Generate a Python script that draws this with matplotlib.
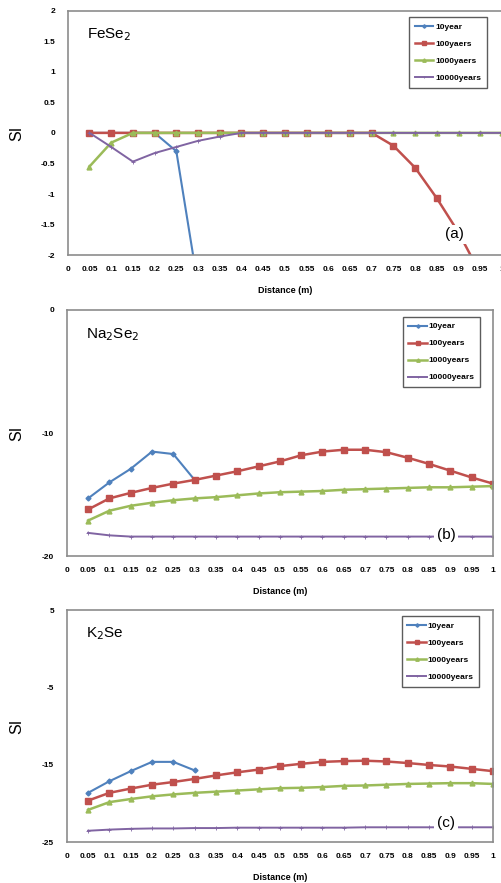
#!/usr/bin/env python3

"""
plot.py - SI vs distance for FeSe2, Na2Se2 and K2Se
"""

import matplotlib
matplotlib.use("Agg")
import matplotlib.pyplot as plt

plt.rcParams['font.family'] = ['Liberation Sans', 'DejaVu Sans']

distance = [0.05, 0.1, 0.15, 0.2, 0.25, 0.3, 0.35, 0.4, 0.45, 0.5,
            0.55, 0.6, 0.65, 0.7, 0.75, 0.8, 0.85, 0.9, 0.95, 1.0]
distance_10yr = [0.05, 0.1, 0.15, 0.2, 0.25, 0.3]

# (a) FeSe2
fese2_10 = [0, 0, 0, 0, -0.3, -2.5]
fese2_100 = [0, 0, 0, 0, 0, 0, 0, 0, 0, 0, 0, 0, 0, 0, -0.21, -0.57, -1.07, -1.63, -2.3, -3.0]
fese2_1000 = [-0.55, -0.16, 0, 0, 0, 0, 0, 0, 0, 0, 0, 0, 0, 0, 0, 0, 0, 0, 0, 0]
fese2_10000 = [0, -0.23, -0.47, -0.33, -0.23, -0.13, -0.06, 0, 0, 0, 0, 0, 0, 0, 0, 0, 0, 0, 0, 0]

# (b) Na2Se2
na2se2_10 = [-15.3, -14.0, -12.9, -11.5, -11.7, -13.8]
na2se2_100 = [-16.2, -15.3, -14.85, -14.45, -14.1, -13.8, -13.45, -13.1, -12.7, -12.3,
              -11.8, -11.5, -11.35, -11.35, -11.55, -12.0, -12.5, -13.05, -13.6, -14.1]
na2se2_1000 = [-17.1, -16.3, -15.9, -15.65, -15.45, -15.3, -15.2, -15.05, -14.9, -14.8,
               -14.75, -14.7, -14.6, -14.55, -14.5, -14.45, -14.4, -14.4, -14.35, -14.3]
na2se2_10000 = [-18.1, -18.3, -18.4, -18.4, -18.4, -18.4, -18.4, -18.4, -18.4, -18.4,
                -18.4, -18.4, -18.4, -18.4, -18.4, -18.4, -18.4, -18.4, -18.4, -18.4]

# (c) K2Se
k2se_10 = [-18.6, -17.1, -15.8, -14.6, -14.6, -15.7]
k2se_100 = [-19.6, -18.6, -18.05, -17.55, -17.2, -16.8, -16.35, -15.95, -15.6, -15.15,
            -14.85, -14.6, -14.5, -14.45, -14.55, -14.75, -15.0, -15.2, -15.5, -15.8]
k2se_1000 = [-20.8, -19.8, -19.4, -19.05, -18.8, -18.6, -18.45, -18.3, -18.15, -18.0,
             -17.95, -17.85, -17.7, -17.65, -17.55, -17.45, -17.4, -17.35, -17.35, -17.45]
k2se_10000 = [-23.5, -23.35, -23.25, -23.2, -23.2, -23.15, -23.15, -23.1, -23.1, -23.1,
              -23.1, -23.1, -23.1, -23.05, -23.05, -23.05, -23.05, -23.05, -23.05, -23.05]

x_ticks = [0, 0.05, 0.1, 0.15, 0.2, 0.25, 0.3, 0.35, 0.4, 0.45, 0.5,
           0.55, 0.6, 0.65, 0.7, 0.75, 0.8, 0.85, 0.9, 0.95, 1]
x_labels = ["0", "0.05", "0.1", "0.15", "0.2", "0.25", "0.3", "0.35", "0.4", "0.45", "0.5",
            "0.55", "0.6", "0.65", "0.7", "0.75", "0.8", "0.85", "0.9", "0.95", "1"]

yticks_a = [2, 1.5, 1, 0.5, 0, -0.5, -1, -1.5, -2]
ylabels_a = ["2", "1.5", "1", "0.5", "0", "-0.5", "-1", "-1.5", "-2"]
yticks_b = [0, -10, -20]
yticks_c = [5, -5, -15, -25]

labels_a = ["10year", "100yaers", "1000yaers", "10000years"]
labels_bc = ["10year", "100years", "1000years", "10000years"]

BLUE = "#4F81BD"
RED = "#C0504D"
GREEN = "#9BBB59"
PURPLE = "#8064A2"


def drawPanel(ax, series, labels, title, tag, ylim, yticks, ylabels, legend_anchor):
    s10, s100, s1000, s10000 = series
    ax.plot(distance_10yr, s10, color=BLUE, marker="D", markersize=2.5, lw=1.5, label=labels[0])
    ax.plot(distance, s100, color=RED, marker="s", markersize=4.5, lw=1.8, label=labels[1])
    ax.plot(distance, s1000, color=GREEN, marker="^", markersize=3.5, lw=1.8, label=labels[2])
    ax.plot(distance, s10000, color=PURPLE, marker="+", markersize=2.5, mew=0.6, lw=1.4, label=labels[3])

    ax.set_xlim(0, 1)
    ax.set_ylim(*ylim)
    ax.set_xticks(x_ticks)
    ax.set_xticklabels(x_labels)
    ax.set_yticks(yticks)
    ax.set_yticklabels(ylabels)
    ax.tick_params(axis="x", length=0, pad=8, labelsize=6)
    ax.tick_params(axis="y", length=0, pad=9, labelsize=6)
    for lbl in ax.get_xticklabels() + ax.get_yticklabels():
        lbl.set_fontweight("bold")
    for sp in ax.spines.values():
        sp.set_color("#8c8c8c")
        sp.set_linewidth(1.2)

    ax.set_xlabel("Distance (m)", fontsize=6.5, fontweight="bold", labelpad=9)
    ax.set_ylabel("SI", fontsize=11.5)
    ax.yaxis.set_label_coords(-0.1, 0.5)

    ax.text(0.045, 0.9, title, transform=ax.transAxes, fontsize=11, va="center", ha="left")
    ax.text(0.89, 0.085, tag, transform=ax.transAxes, fontsize=11, va="center", ha="center",
            bbox=dict(facecolor="white", edgecolor="none", pad=2))

    leg = ax.legend(loc="upper right", bbox_to_anchor=legend_anchor, borderaxespad=0,
                    fontsize=6, handlelength=2.2, labelspacing=1.1, fancybox=False,
                    markerscale=0.7, handletextpad=0.2, borderpad=0.7)
    leg.get_frame().set_edgecolor("#333333")
    leg.get_frame().set_linewidth(1.0)
    for t in leg.get_texts():
        t.set_fontweight("bold")


def main():
    fig = plt.figure(figsize=(5.02, 8.83), dpi=100)
    ax_a = fig.add_axes([0.135, 0.711, 0.865, 0.277])
    ax_b = fig.add_axes([0.133, 0.370, 0.849, 0.279])
    ax_c = fig.add_axes([0.133, 0.046, 0.849, 0.263])

    drawPanel(ax_a, [fese2_10, fese2_100, fese2_1000, fese2_10000], labels_a,
              "FeSe$_2$", "(a)", (-2, 2), yticks_a, ylabels_a, (0.965, 0.973))
    drawPanel(ax_b, [na2se2_10, na2se2_100, na2se2_1000, na2se2_10000], labels_bc,
              "Na$_2$Se$_2$", "(b)", (-20, 0), yticks_b, [str(v) for v in yticks_b], (0.97, 0.972))
    drawPanel(ax_c, [k2se_10, k2se_100, k2se_1000, k2se_10000], labels_bc,
              "K$_2$Se", "(c)", (-25, 5), yticks_c, [str(v) for v in yticks_c], (0.968, 0.973))

    fig.savefig("out.png", dpi=100)


if __name__ == "__main__":
    main()
